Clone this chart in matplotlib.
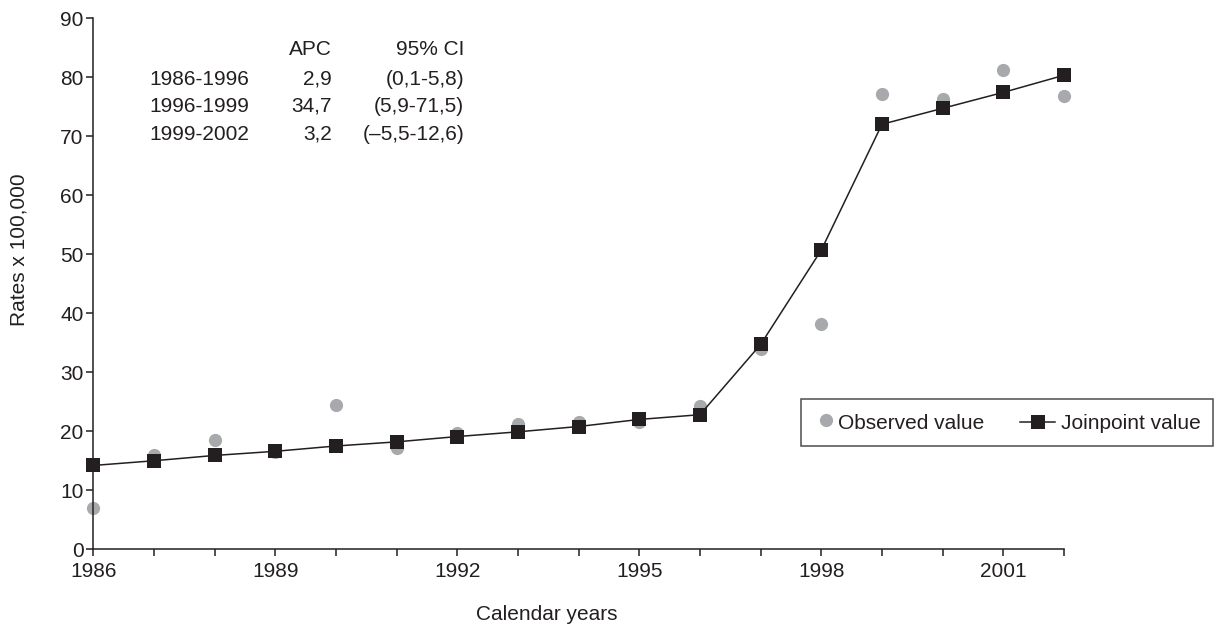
import matplotlib
matplotlib.use("Agg")
import matplotlib.pyplot as plt
from matplotlib.lines import Line2D
from matplotlib.legend_handler import HandlerBase

plt.rcParams['font.family'] = ['Liberation Sans', 'DejaVu Sans']

years = list(range(1986, 2003))
observed = [7.0, 16.0, 18.5, 16.5, 24.5, 17.1, 19.7, 21.2, 21.6, 21.5, 24.2,
            34.0, 38.2, 77.1, 76.2, 81.2, 76.8]
joinpoint = [14.2, 15.0, 15.9, 16.6, 17.5, 18.2, 19.1, 19.9, 20.8, 22.0, 22.8,
             34.7, 50.7, 72.0, 74.7, 77.4, 80.3]
xtick_labels = [1986, 1989, 1992, 1995, 1998, 2001]
seg_periods = ["1986-1996", "1996-1999", "1999-2002"]
seg_apc = ["2,9", "34,7", "3,2"]
seg_ci = ["(0,1-5,8)", "(5,9-71,5)", "(\u20135,5-12,6)"]

W, H = 1217, 624
gray = '#a7a9ac'
dark = '#231f20'
MS = 9.5

fig = plt.figure(figsize=(W / 100, H / 100), dpi=100)
ax = fig.add_axes([93.3 / W, 1 - 549.3 / H, (1064 - 93.3) / W, (549.3 - 18) / H])

ax.plot(years, observed, linestyle='none', marker='o', markersize=MS,
        color=gray, markeredgewidth=0, clip_on=False, zorder=2)
ax.plot(years, joinpoint, color=dark, linewidth=1.1, marker='s', markersize=MS,
        markeredgewidth=0, clip_on=False, zorder=3)

ax.set_xlim(1986, 2002)
ax.set_ylim(0, 90)
ax.set_xticks(years)
ax.set_xticklabels([str(y) if y in xtick_labels else '' for y in years])
ax.set_yticks(range(0, 91, 10))
for s in ['top', 'right']:
    ax.spines[s].set_visible(False)
for s in ['left', 'bottom']:
    ax.spines[s].set_linewidth(1.1)
    ax.spines[s].set_color(dark)
ax.tick_params(axis='both', direction='out', length=5, width=1.1, colors=dark,
               labelsize=15, labelcolor=dark)
ax.tick_params(axis='x', pad=4)
ax.tick_params(axis='y', pad=2)

aw = 1064 - 93.3
ah = 549.3 - 18
ax.set_xlabel("Calendar years", fontsize=15, color=dark)
ax.xaxis.set_label_coords((547 - 93.3) / aw, -(615 - 549.3) / ah)
ax.xaxis.label.set_va('center')
ax.set_ylabel("Rates x 100,000", fontsize=15, color=dark)
ax.yaxis.set_label_coords(-(93.3 - 19.5) / aw, (549.3 - 250) / ah)
ax.yaxis.label.set_va('center')


def fx(px):
    return px / W


def fy(py):
    return 1 - py / H


fig.text(fx(331.7), fy(49.3), "APC", ha='right', va='center', fontsize=15, color=dark)
fig.text(fx(464.3), fy(49.3), "95% CI", ha='right', va='center', fontsize=15, color=dark)
rows_y = [79.3, 106.5, 134.3]
for yy, p, a, c in zip(rows_y, seg_periods, seg_apc, seg_ci):
    fig.text(fx(149.3), fy(yy), p, ha='left', va='center', fontsize=15, color=dark)
    fig.text(fx(331.7), fy(yy), a, ha='right', va='center', fontsize=15, color=dark)
    fig.text(fx(464.3), fy(yy), c, ha='right', va='center', fontsize=15, color=dark)


class JoinHandler(HandlerBase):
    def create_artists(self, legend, orig_handle, xdescent, ydescent,
                       width, height, fontsize, trans):
        k = 72 / 100
        y = height / 2 - ydescent
        x0 = -xdescent
        line = Line2D([x0 - 16 * k, x0 + 19 * k], [y, y], color=dark, lw=1.1,
                      transform=trans)
        mk = Line2D([x0 + 2 * k], [y], marker='s', markersize=MS, color=dark,
                    markeredgewidth=0, linestyle='none', transform=trans)
        return [line, mk]


h_obs = Line2D([], [], linestyle='none', marker='o', markersize=MS, color=gray,
               markeredgewidth=0)
h_join = Line2D([], [], color=dark, linewidth=1.1, marker='s', markersize=MS,
                markeredgewidth=0)
leg = fig.legend([h_obs, h_join], ["Observed value", "Joinpoint value"], ncol=2,
                 loc='upper left', bbox_to_anchor=(fx(801), fy(399.3)),
                 frameon=True, fancybox=False, edgecolor=dark, fontsize=15,
                 handlelength=1.2, handleheight=1.15, handletextpad=0.0,
                 columnspacing=2.45, borderpad=0.6, borderaxespad=0,
                 handler_map={h_join: JoinHandler()})
leg.get_frame().set_linewidth(1.1)
for t in leg.get_texts():
    t.set_color(dark)

fig.savefig("out.png", dpi=100)
